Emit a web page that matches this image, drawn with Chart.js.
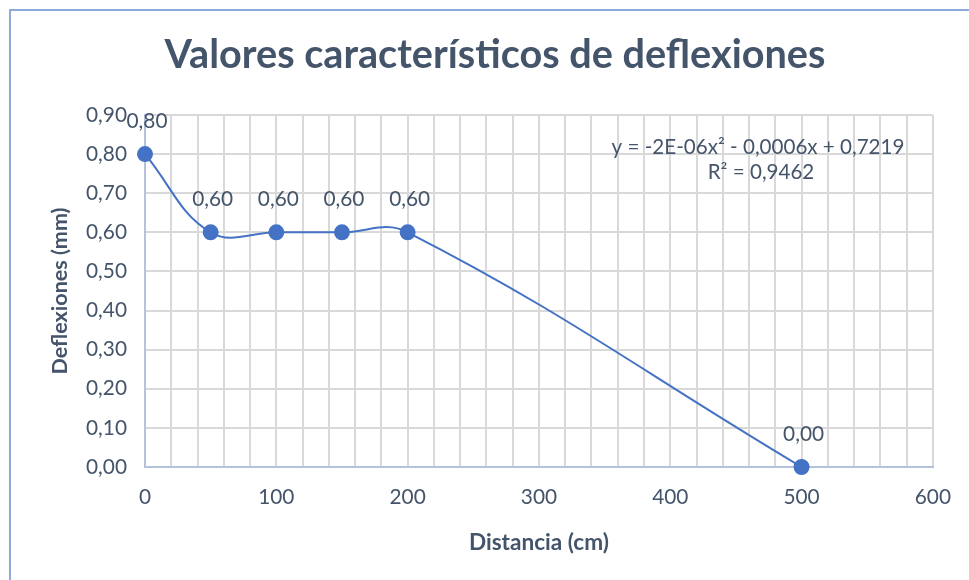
<!DOCTYPE html>
<html>
<head>
<meta charset="utf-8">
<script src="https://cdn.jsdelivr.net/npm/chart.js@4.4.1/dist/chart.umd.min.js"></script>
<style>
  html, body { margin: 0; padding: 0; background: #ffffff; }
  canvas { display: block; }
</style>
</head>
<body>
<canvas id="c" width="969" height="580"></canvas>
<script>
// Distance along the slab (cm) and measured deflection (mm)
const distancia = [0, 50, 100, 150, 200, 500];
const deflexion = [0.80, 0.60, 0.60, 0.60, 0.60, 0.00];

// Axis ranges and tick steps
const xTicks = [0, 100, 200, 300, 400, 500, 600];
const yTicks = [0.0, 0.1, 0.2, 0.3, 0.4, 0.5, 0.6, 0.7, 0.8, 0.9];

// Text
const titulo = 'Valores característicos de deflexiones';
const tituloX = 'Distancia (cm)';
const tituloY = 'Deflexiones (mm)';
const ecuacion = 'y = -2E-06x² - 0,0006x + 0,7219';
const r2 = 'R² = 0,9462';

const FONT = 'Lato, "Open Sans", sans-serif';
const TEXT = '#44546A';
const BLUE = '#4472C4';
const fmt = v => v.toFixed(2).replace('.', ',');

// Font size that gives a string a chosen printed width
const meas = document.createElement('canvas').getContext('2d');
function fitSize(text, weight, width) {
  meas.font = `${weight} 40px ${FONT}`;
  return 40 * width / meas.measureText(text).width;
}

const points = distancia.map((x, i) => ({ x, y: deflexion[i] }));

function build() {
  const tickSize = fitSize('0,90', 'normal', 41);
  const axisTitleX = fitSize(tituloX, 'bold', 140);
  const axisTitleY = fitSize(tituloY, 'bold', 167);
  const titleSize = fitSize(titulo, 'bold', 661);
  const eqSize = fitSize(ecuacion, 'normal', 293);

  // Outer frame, title, trendline equation and point value labels
  const decor = {
    id: 'decor',
    beforeDraw(chart) {
      const ctx = chart.ctx;
      ctx.save();
      ctx.fillStyle = '#ffffff';
      ctx.fillRect(0, 0, chart.width, chart.height);
      ctx.strokeStyle = '#8eaadb';
      ctx.lineWidth = 2;
      ctx.beginPath();
      ctx.moveTo(10, chart.height);
      ctx.lineTo(10, 10);
      ctx.lineTo(chart.width, 10);
      ctx.stroke();
      ctx.restore();
    },
    afterDraw(chart) {
      const ctx = chart.ctx;
      ctx.save();
      ctx.fillStyle = TEXT;
      ctx.textAlign = 'center';
      ctx.textBaseline = 'middle';
      ctx.font = `bold ${titleSize}px ${FONT}`;
      ctx.fillText(titulo, 495, 55);

      ctx.font = `${eqSize}px ${FONT}`;
      ctx.fillText(ecuacion, 758, 147);
      ctx.fillText(r2, 761, 172);

      const xs = chart.scales.x, ys = chart.scales.y;
      ctx.font = `${tickSize}px ${FONT}`;
      points.forEach(p => {
        const px = xs.getPixelForValue(p.x);
        const py = ys.getPixelForValue(p.y);
        ctx.fillText(fmt(p.y), px + 2, py - 33);
      });
      ctx.restore();
    }
  };

  new Chart(document.getElementById('c'), {
    type: 'scatter',
    data: {
      datasets: [{
        data: points,
        showLine: true,
        clip: false,
        borderColor: BLUE,
        backgroundColor: BLUE,
        borderWidth: 2,
        pointRadius: 7,
        pointHoverRadius: 7,
        tension: 0.4
      }]
    },
    options: {
      responsive: false,
      animation: false,
      layout: { padding: { left: 10, right: 36, top: 115, bottom: 0 } },
      plugins: { legend: { display: false }, tooltip: { enabled: false } },
      scales: {
        x: {
          type: 'linear',
          min: xTicks[0],
          max: xTicks[xTicks.length - 1],
          afterFit: s => { s.height = 113; },
          ticks: {
            stepSize: 20,
            autoSkip: false,
            maxRotation: 0,
            padding: 18,
            color: TEXT,
            font: { family: FONT, size: tickSize },
            callback: v => (xTicks.includes(v) ? String(v) : '')
          },
          grid: { color: '#d9d9d9', lineWidth: 2, drawTicks: false },
          border: { color: '#b4c2dc', width: 2 },
          title: {
            display: true,
            text: tituloX,
            color: TEXT,
            font: { family: FONT, size: axisTitleX, weight: 'bold' },
            padding: { top: 0, bottom: 580 - 543 - 0.6 * axisTitleX }
          }
        },
        y: {
          type: 'linear',
          min: yTicks[0],
          max: yTicks[yTicks.length - 1],
          afterFit: s => { s.width = 135; },
          ticks: {
            stepSize: 0.1,
            padding: 18,
            color: TEXT,
            font: { family: FONT, size: tickSize },
            callback: v => fmt(v)
          },
          grid: { color: '#d9d9d9', lineWidth: 2, drawTicks: false },
          border: { color: '#b4c2dc', width: 2 },
          title: {
            display: true,
            text: tituloY,
            color: TEXT,
            font: { family: FONT, size: axisTitleY, weight: 'bold' },
            padding: { top: 60 - 10 - 0.6 * axisTitleY, bottom: 0 }
          }
        }
      }
    },
    plugins: [decor]
  });
}

if (document.fonts && document.fonts.load) {
  Promise.all([
    document.fonts.load(`bold 20px ${FONT}`),
    document.fonts.load(`20px ${FONT}`)
  ]).then(build, build);
} else {
  build();
}
</script>
</body>
</html>
